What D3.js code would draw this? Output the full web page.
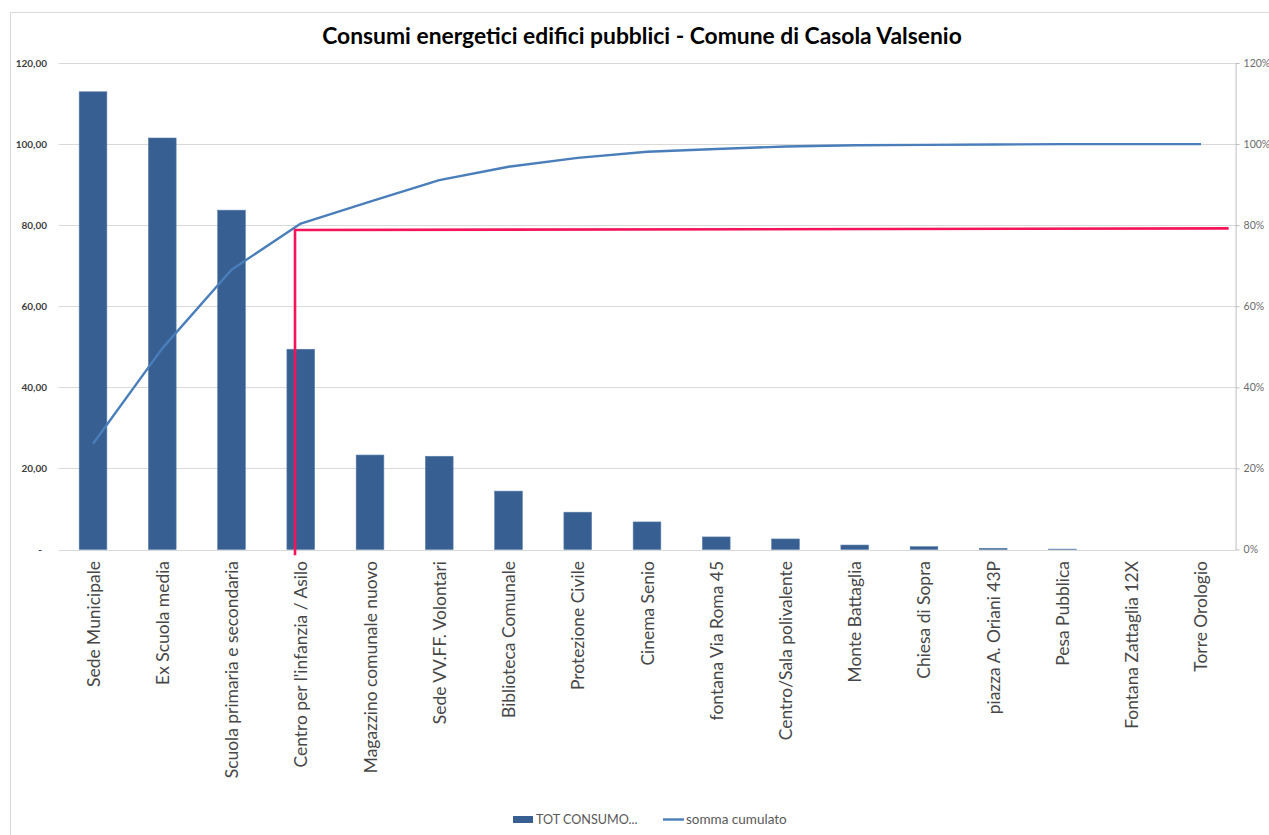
<!DOCTYPE html>
<html>
<head>
<meta charset="utf-8">
<script src="https://cdn.jsdelivr.net/npm/d3@7/dist/d3.min.js"></script>
<style>
  html, body { margin: 0; padding: 0; background: #fff; }
  svg { display: block; font-family: Lato, "Open Sans", sans-serif; }
</style>
</head>
<body>
<svg id="chart" width="1269" height="835"></svg>
<script>
// ---- data ----
const categories = [
  "Sede Municipale", "Ex Scuola media", "Scuola primaria e secondaria",
  "Centro per l'infanzia / Asilo", "Magazzino comunale nuovo", "Sede VV.FF. Volontari",
  "Biblioteca Comunale", "Protezione Civile", "Cinema Senio", "fontana Via Roma 45",
  "Centro/Sala polivalente", "Monte Battaglia", "Chiesa di Sopra", "piazza A. Oriani 43P",
  "Pesa Pubblica", "Fontana Zattaglia 12X", "Torre Orologio"
];
const totConsumo = [112.9, 101.5, 83.7, 49.4, 23.3, 23.0, 14.4, 9.2, 6.8, 3.1, 2.6, 1.1, 0.7, 0.3, 0.1, 0, 0];
const sommaCumulato = [0.261, 0.496, 0.690, 0.804, 0.858, 0.911, 0.944, 0.966, 0.981, 0.988, 0.994, 0.997, 0.998, 0.999, 1.0, 1.0, 1.0];
const leftTicks = [0, 20, 40, 60, 80, 100, 120];
const rightTicks = [0, 0.2, 0.4, 0.6, 0.8, 1.0, 1.2];
// 80% reference marker (position in category-index units, value in share)
const refLine = [
  { idx: 3.417, pct: -0.014 },
  { idx: 3.417, pct: 0.788 },
  { idx: 16.90, pct: 0.792 }
];
const titleText = "Consumi energetici edifici pubblici - Comune di Casola Valsenio";
const legendLabels = ["TOT CONSUMO...", "somma cumulato"];

// ---- layout ----
const plot = { left: 58.4, right: 1235.6, top: 63, bottom: 549.5 };
const svg = d3.select("#chart");

// chart frame
svg.append("path").attr("d", "M10.5,835 V12.5 H1269")
  .attr("fill", "none").attr("stroke", "#d9d9d9").attr("stroke-width", 1);

const x = d3.scaleBand().domain(categories).range([plot.left, plot.right])
  .paddingInner(0.6).paddingOuter(0.3);
const xi = d3.scaleLinear().domain([0, categories.length]).range([plot.left, plot.right]);
const yL = d3.scaleLinear().domain([0, 120]).range([plot.bottom, plot.top]);
const yR = d3.scaleLinear().domain([0, 1.2]).range([plot.bottom, plot.top]);

// gridlines
svg.append("g").selectAll("line").data(leftTicks).join("line")
  .attr("x1", plot.left).attr("x2", plot.right)
  .attr("y1", d => Math.round(yL(d)) + 0.5).attr("y2", d => Math.round(yL(d)) + 0.5)
  .attr("stroke", "#d9d9d9").attr("stroke-width", 1);

// left axis labels
const fmt = d => d === 0 ? "-" : d3.format(".2f")(d).replace(".", ",");
svg.append("g").selectAll("text").data(leftTicks).join("text")
  .attr("x", d => d === 0 ? 42 : 47)
  .attr("y", d => yL(d) + 3.5)
  .attr("text-anchor", "end")
  .attr("font-size", 10).attr("font-weight", 700).attr("fill", "#404040")
  .text(fmt);

// right axis
const rAxis = d3.axisRight(yR).tickValues(rightTicks).tickFormat(d3.format(".0%")).tickSize(4).tickPadding(4).tickSizeOuter(0);
const rg = svg.append("g").attr("transform", `translate(${plot.right},0)`).call(rAxis);
rg.select(".domain").attr("stroke", "#bfbfbf");
rg.selectAll(".tick line").attr("stroke", "#bfbfbf");
rg.selectAll(".tick text").attr("font-size", 10.5).attr("fill", "#6b6b6b")
  .attr("font-family", "Lato, sans-serif");

// bars
svg.append("g").selectAll("rect").data(categories).join("rect")
  .attr("x", d => x(d))
  .attr("width", x.bandwidth())
  .attr("y", (d, i) => yL(totConsumo[i]))
  .attr("height", (d, i) => plot.bottom - yL(totConsumo[i]))
  .attr("fill", "#375f91")
  .attr("stroke", "#5b7fab").attr("stroke-width", 0.6);

// cumulative line
const line = d3.line().x((d, i) => x(categories[i]) + x.bandwidth() / 2).y(d => yR(d));
svg.append("path").datum(sommaCumulato).attr("d", line)
  .attr("fill", "none").attr("stroke", "#4a7ebb").attr("stroke-width", 2.4)
  .attr("stroke-linejoin", "round");

// reference 80% marker
const refPath = d3.line().x(d => xi(d.idx)).y(d => yR(d.pct));
svg.append("path").datum(refLine).attr("d", refPath)
  .attr("fill", "none").attr("stroke", "#f5145a").attr("stroke-width", 2.6);

// x labels
const xl = svg.append("g").selectAll("text").data(categories).join("text")
  .attr("transform", d => `translate(${x(d) + x.bandwidth() / 2 + 6.5},561) rotate(-90)`)
  .attr("text-anchor", "end")
  .attr("font-size", 17).attr("fill", "#474747")
  .text(d => d);
// fit label size to reference width of first label (~126px)
(function () {
  const n = xl.nodes()[0];
  const w = n.getComputedTextLength();
  const fs = 17 * 126 / w;
  xl.attr("font-size", fs);
})();

// title
const t = svg.append("text").attr("x", 642).attr("y", 44)
  .attr("text-anchor", "middle").attr("font-size", 23).attr("font-weight", 700)
  .attr("fill", "#000").text(titleText);
(function () {
  const w = t.node().getComputedTextLength();
  t.attr("font-size", 23 * 640 / w);
})();

// legend
const lg = svg.append("g");
lg.append("rect").attr("x", 513).attr("y", 816).attr("width", 20).attr("height", 7).attr("fill", "#375f91");
lg.append("text").attr("x", 536).attr("y", 824).attr("font-size", 12.6).attr("fill", "#595959").text(legendLabels[0]);
lg.append("line").attr("x1", 663).attr("x2", 684).attr("y1", 819.5).attr("y2", 819.5)
  .attr("stroke", "#4a7ebb").attr("stroke-width", 2.4);
lg.append("text").attr("x", 686).attr("y", 824).attr("font-size", 13.5).attr("fill", "#595959").text(legendLabels[1]);
</script>
</body>
</html>
